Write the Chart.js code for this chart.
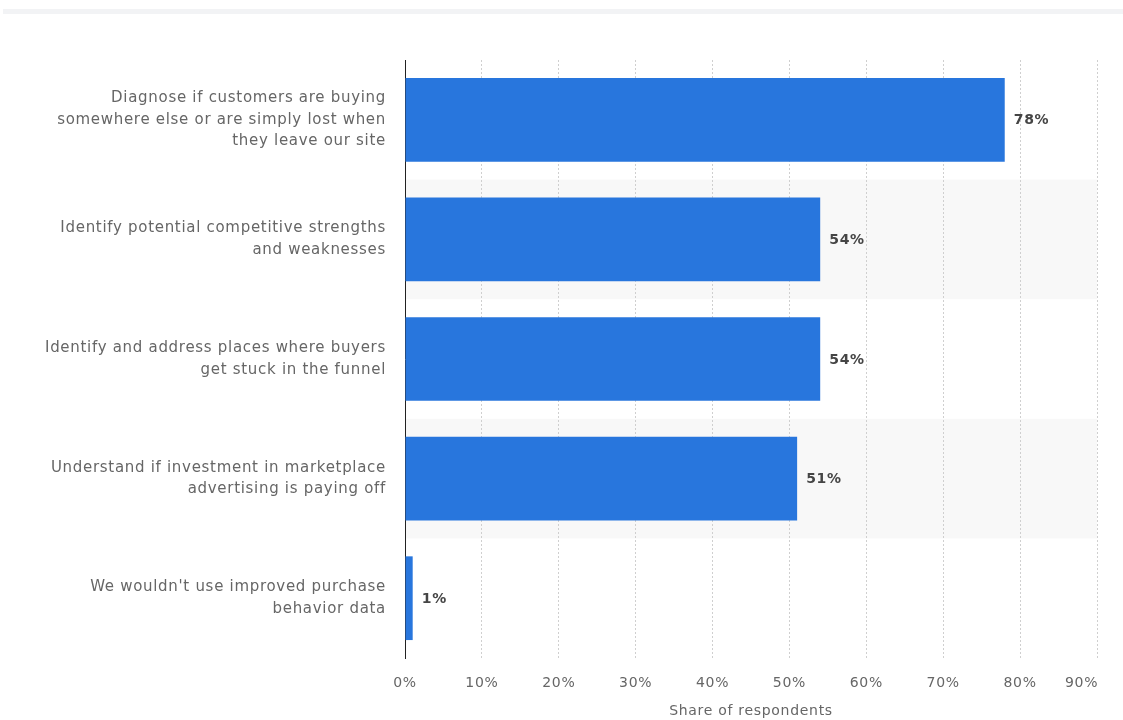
<!DOCTYPE html>
<html>
<head>
<meta charset="utf-8">
<script src="https://cdn.jsdelivr.net/npm/chart.js@4/dist/chart.umd.min.js"></script>
<style>
  html, body { margin: 0; padding: 0; background: #ffffff; }
  #wrap { position: relative; width: 1123px; height: 720px; }
  #strip { position: absolute; left: 3px; top: 9px; width: 1120px; height: 5px; background: #f2f3f5; }
  canvas { position: absolute; left: 0; top: 0; }
</style>
</head>
<body>
<div id="wrap">
  <div id="strip"></div>
  <canvas id="c" width="1123" height="720"></canvas>
</div>
<script>
const categories = [
  ["Diagnose if customers are buying", "somewhere else or are simply lost when", "they leave our site"],
  ["Identify potential competitive strengths", "and weaknesses"],
  ["Identify and address places where buyers", "get stuck in the funnel"],
  ["Understand if investment in marketplace", "advertising is paying off"],
  ["We wouldn't use improved purchase", "behavior data"]
];
const shares = [78, 54, 54, 51, 1];
const xTicks = [0, 10, 20, 30, 40, 50, 60, 70, 80, 90];
const axisTitle = "Share of respondents";

const FONT = "'DejaVu Sans', Verdana, sans-serif";
const SPACING = '0.7px';

const spacingPlugin = {
  id: 'spacing',
  beforeUpdate(chart) { chart.ctx.letterSpacing = SPACING; },
  beforeLayout(chart) { chart.ctx.letterSpacing = SPACING; },
  beforeDraw(chart) { chart.ctx.letterSpacing = SPACING; }
};

const bandPlugin = {
  id: 'bands',
  beforeDraw(chart) {
    const { ctx, chartArea, scales } = chart;
    const y = scales.y;
    ctx.save();
    ctx.fillStyle = '#f8f8f8';
    categories.forEach((c, i) => {
      if (i % 2 === 1) {
        const top = y.getPixelForValue(i - 0.5);
        const bot = y.getPixelForValue(i + 0.5);
        ctx.fillRect(chartArea.left, top, chartArea.right - chartArea.left, bot - top);
      }
    });
    ctx.restore();
  }
};

const valueLabels = {
  id: 'valueLabels',
  afterDatasetsDraw(chart) {
    const { ctx } = chart;
    const meta = chart.getDatasetMeta(0);
    ctx.save();
    ctx.font = "bold 14px " + FONT;
    ctx.fillStyle = '#454545';
    ctx.textAlign = 'left';
    ctx.textBaseline = 'middle';
    meta.data.forEach((bar, i) => {
      ctx.fillText(shares[i] + '%', bar.x + 9, bar.y + 1);
    });
    ctx.restore();
  }
};

new Chart(document.getElementById('c'), {
  type: 'bar',
  data: {
    labels: categories,
    datasets: [{
      data: shares,
      backgroundColor: '#2876dd',
      borderWidth: 0,
      barPercentage: 0.7,
      categoryPercentage: 1.0
    }]
  },
  plugins: [spacingPlugin, bandPlugin, valueLabels],
  options: {
    indexAxis: 'y',
    responsive: false,
    animation: false,
    devicePixelRatio: 1,
    layout: { padding: { top: 60, right: 26, left: 0, bottom: 0 } },
    plugins: { legend: { display: false }, tooltip: { enabled: false } },
    scales: {
      x: {
        type: 'linear',
        min: 0,
        max: 90,
        afterBuildTicks(scale) { scale.ticks = xTicks.map(v => ({ value: v })); },
        afterFit(scale) { scale.height = 62; scale.paddingRight = 0; scale.paddingLeft = 0; },
        grid: { color: '#cfcfcf', drawTicks: false, lineWidth: 1 },
        border: { display: false, dash: [2, 2] },
        ticks: {
          padding: 17,
          color: '#666666',
          font: { family: FONT, size: 14 },
          callback: (v, i, arr) => (i === arr.length - 1) ? v + '%      ' : v + '%'
        },
        title: {
          display: true,
          text: axisTitle,
          color: '#666666',
          font: { family: FONT, size: 14 },
          padding: { top: 0, bottom: 0 }
        }
      },
      y: {
        afterFit(scale) { scale.width = 405; },
        grid: { display: false, drawTicks: false },
        border: { display: true, color: '#222222', width: 1 },
        ticks: {
          padding: 19,
          color: '#666666',
          font: { family: FONT, size: 15, lineHeight: 1.45 }
        }
      }
    }
  }
});
</script>
</body>
</html>
